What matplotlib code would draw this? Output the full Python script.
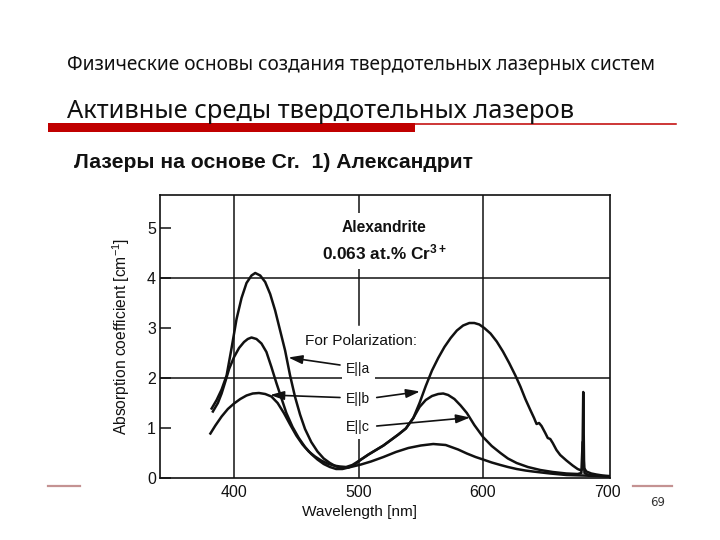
import matplotlib
matplotlib.use("Agg")
import matplotlib.pyplot as plt
from matplotlib.patches import Rectangle
from matplotlib.lines import Line2D

# ---------------- data ----------------
title_top = "Физические основы создания твердотельных лазерных систем"
title_main = "Активные среды твердотельных лазеров"
subtitle = "Лазеры на основе Cr.  1) Александрит"
page_no = "69"

# E||a : strong 417 nm band, weak 560 nm band
wl_a = [382, 386, 390, 394, 398, 402, 406, 410, 414, 417, 421, 425, 429, 433, 437, 441, 445, 449, 453, 457,
        462, 467, 472, 477, 482, 487, 492, 497, 502, 510, 520, 530, 540, 550, 560, 570, 580, 587, 594, 600,
        607, 614, 620, 627, 634, 640, 654, 667, 680, 690, 701]
abs_a = [1.39, 1.56, 1.77, 2.05, 2.6, 3.18, 3.6, 3.9, 4.05, 4.1, 4.05, 3.92, 3.68, 3.35, 2.95, 2.55, 2.05, 1.62, 1.27, 0.98,
         0.72, 0.53, 0.39, 0.3, 0.23, 0.2, 0.21, 0.24, 0.27, 0.33, 0.42, 0.52, 0.6, 0.65, 0.68, 0.66, 0.57, 0.49, 0.42, 0.37,
         0.31, 0.26, 0.22, 0.18, 0.15, 0.13, 0.09, 0.06, 0.05, 0.04, 0.03]

# E||b : weak 420 nm band, strong 590 nm band with R-line
wl_b = [381, 385, 390, 395, 400, 405, 410, 415, 420, 425, 430, 435, 440, 445, 450, 455, 460, 465, 470, 475,
        480, 485, 490, 495, 502, 508, 514, 520, 526, 532, 538, 544, 549, 554, 559, 564, 569, 574, 579, 584,
        589, 593, 597, 601, 606, 611, 616, 621, 626, 630, 634, 638, 641, 643, 645, 647, 650, 652, 654, 656,
        659, 662, 667, 672, 676, 679, 679.8, 680.5, 681.2, 683, 687, 691, 696, 701]
abs_b = [0.89, 1.05, 1.23, 1.38, 1.49, 1.58, 1.65, 1.69, 1.7, 1.68, 1.63, 1.5, 1.3, 1.07, 0.85, 0.67, 0.53, 0.43, 0.35, 0.29,
         0.25, 0.23, 0.22, 0.26, 0.37, 0.47, 0.56, 0.65, 0.76, 0.87, 0.99, 1.2, 1.5, 1.84, 2.15, 2.4, 2.62, 2.8, 2.95, 3.05,
         3.1, 3.1, 3.07, 3.0, 2.89, 2.73, 2.53, 2.3, 2.05, 1.83, 1.58, 1.36, 1.2, 1.08, 1.1, 1.04, 0.9, 0.8, 0.78, 0.7,
         0.56, 0.46, 0.35, 0.25, 0.18, 0.15, 0.2, 1.72, 0.2, 0.13, 0.09, 0.07, 0.05, 0.04]

# E||c : 414 nm band, 568 nm band
wl_c = [383, 387, 390, 393, 396, 400, 404, 408, 411, 414, 418, 422, 426, 430, 434, 438, 442, 447, 452, 457,
        462, 467, 472, 477, 482, 487, 492, 497, 502, 508, 514, 520, 526, 532, 538, 544, 549, 554, 559, 564,
        568, 572, 577, 582, 587, 593, 600, 607, 614, 620, 627, 636, 646, 656, 667, 676, 679, 680, 681.5, 684,
        690, 701]
abs_c = [1.33, 1.5, 1.69, 1.93, 2.18, 2.42, 2.6, 2.72, 2.78, 2.81, 2.78, 2.69, 2.52, 2.22, 1.9, 1.6, 1.3, 1.02, 0.8, 0.62,
         0.48, 0.37, 0.28, 0.22, 0.18, 0.18, 0.21, 0.27, 0.37, 0.47, 0.56, 0.65, 0.76, 0.87, 0.99, 1.2, 1.42, 1.56, 1.64, 1.68,
         1.69, 1.66, 1.58, 1.45, 1.3, 1.06, 0.82, 0.64, 0.5, 0.39, 0.3, 0.22, 0.16, 0.12, 0.09, 0.08, 0.1, 0.72, 0.1, 0.07,
         0.05, 0.03]

x_ticks = [400, 500, 600, 700]
y_ticks = [0, 1, 2, 3, 4, 5]
x_label = "Wavelength [nm]"
y_label = "Absorption coefficient [cm$^{-1}$]"
sample_name = "Alexandrite"
sample_conc = "0.063 at.% Cr$^{3+}$"
legend_head = "For Polarization:"
pol_labels = ["E||a", "E||b", "E||c"]

# ---------------- styling ----------------
plt.rcParams['font.family'] = ['Liberation Sans Narrow', 'Liberation Sans', 'DejaVu Sans']
plt.rcParams['mathtext.default'] = 'regular'

W, H = 720, 540
fig = plt.figure(figsize=(7.2, 5.4), dpi=100)
fig.patch.set_facecolor('white')


def fx(px):
    return px / W


def fy(py):
    return 1 - py / H


renderer = fig.canvas.get_renderer()


def fit(t, target, vertical=False):
    bb = t.get_window_extent(renderer)
    w = bb.height if vertical else bb.width
    t.set_fontsize(t.get_fontsize() * target / w)


# ---------------- slide header ----------------
hfont = ['Noto Sans', 'DejaVu Sans']
t1 = fig.text(fx(67), fy(70), title_top, family=hfont, fontsize=13, ha='left', va='baseline', color='#111111')
fit(t1, 588)
t2 = fig.text(fx(67), fy(118), title_main, family=hfont, fontsize=17, ha='left', va='baseline', color='#111111')
fit(t2, 508)
t3 = fig.text(fx(74), fy(168), subtitle, family=['Liberation Sans', 'DejaVu Sans'], fontweight='bold',
              fontsize=13, ha='left', va='baseline', color='#111111')
fit(t3, 397)

red = '#c00000'
fig.add_artist(Rectangle((fx(48), fy(132)), fx(415) - fx(48), fy(123) - fy(132), transform=fig.transFigure,
                         facecolor=red, edgecolor='none'))
fig.add_artist(Line2D([fx(415), fx(676)], [fy(124), fy(124)], transform=fig.transFigure, color=red, lw=1.1))

pink = '#c49292'
fig.add_artist(Line2D([fx(48), fx(80)], [fy(486), fy(486)], transform=fig.transFigure, color=pink, lw=1.6))
fig.add_artist(Line2D([fx(633), fx(672)], [fy(486), fy(486)], transform=fig.transFigure, color=pink, lw=1.6))
fig.text(fx(658), fy(502), page_no, family=['DejaVu Sans'], fontsize=8.5, ha='center', va='center', color='#333333')

# ---------------- chart ----------------
ax = fig.add_axes([fx(160), fy(478), fx(610) - fx(160), fy(195) - fy(478)])
ax.set_xlim(340.5, 702)
ax.set_ylim(0, 5.66)
ink = '#111111'
for s in ax.spines.values():
    s.set_linewidth(1.2)
    s.set_color(ink)

ax.set_xticks(x_ticks)
ax.set_yticks(y_ticks)
ax.tick_params(axis='x', length=0, pad=5, labelsize=11.5, colors=ink)
ax.tick_params(axis='y', direction='in', length=8, width=1.1, pad=3, labelsize=11.5, colors=ink)

glw = 1.1
ax.axvline(400, color=ink, lw=glw)
ax.axvline(600, color=ink, lw=glw)
ax.axhline(2, color=ink, lw=glw)
ax.axhline(4, color=ink, lw=glw)
ax.axvline(500, ymin=0, ymax=0.78 / 5.66, color=ink, lw=glw)
ax.axvline(500, ymin=3.06 / 5.66, ymax=1, color=ink, lw=glw)

clw = 1.8
ax.plot(wl_a, abs_a, color=ink, lw=clw, solid_joinstyle='round', zorder=4)
ax.plot(wl_b, abs_b, color=ink, lw=clw, solid_joinstyle='round', zorder=4)
ax.plot(wl_c, abs_c, color=ink, lw=clw, solid_joinstyle='round', zorder=4)

wbox = dict(facecolor='white', edgecolor='none', pad=6)
tb = ax.text(521, 4.52, sample_conc, fontweight='bold', fontsize=14, ha='center', va='center',
             color=ink, bbox=wbox, zorder=6)
fit(tb, 125)
ta = ax.text(520.5, 5.02, sample_name, fontweight='bold', fontsize=14, ha='center', va='center',
             color=ink, bbox=wbox, zorder=7)
fit(ta, 85)
tp = ax.text(502, 2.74, legend_head, fontsize=13, ha='center', va='center', color=ink, zorder=6)
fit(tp, 112)

lab_pos = [(499.8, 2.19), (499.5, 1.58), (499.5, 1.01)]
for lbl, (lx, ly) in zip(pol_labels, lab_pos):
    t = ax.text(lx, ly, lbl, fontsize=12.5, ha='center', va='center', color=ink,
                bbox=dict(facecolor='white', edgecolor='none', pad=4), zorder=6)
    fit(t, 24)

aprops = dict(arrowstyle='-|>,head_length=0.7,head_width=0.22', color=ink, lw=1.2,
              shrinkA=0, shrinkB=0, mutation_scale=12)
# E||a arrow
ax.annotate('', xy=(443.6, 2.41), xytext=(485.1, 2.26), arrowprops=aprops, zorder=5)
# E||b arrows
ax.annotate('', xy=(428.9, 1.66), xytext=(485.1, 1.61), arrowprops=aprops, zorder=5)
ax.annotate('', xy=(549.4, 1.73), xytext=(514.6, 1.61), arrowprops=aprops, zorder=5)
# E||c arrow
ax.annotate('', xy=(589.6, 1.21), xytext=(514.6, 1.04), arrowprops=aprops, zorder=5)

# axis titles
tx = fig.text(fx(360), fy(512), x_label, fontsize=13, ha='center', va='center', color=ink)
fit(tx, 115)
ty = fig.text(fx(121), fy(336), y_label, fontsize=13, ha='center', va='center', rotation=90, color=ink)
fit(ty, 197, vertical=True)

fig.savefig('out.png', dpi=100, facecolor='white')
